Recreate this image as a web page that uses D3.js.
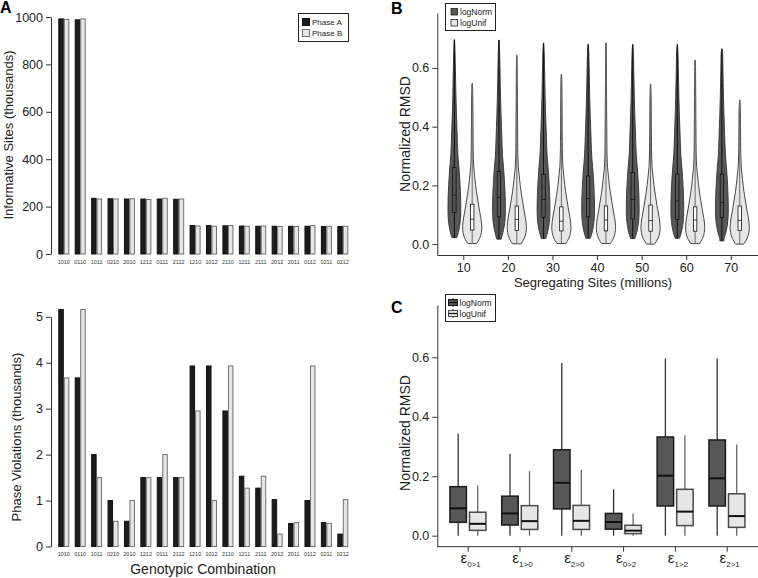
<!DOCTYPE html>
<html><head><meta charset="utf-8">
<script src="https://cdn.jsdelivr.net/npm/d3@7/dist/d3.min.js"></script>
<style>
body{margin:0;background:#fff}
svg{font-family:"Liberation Sans",Arial,sans-serif}
</style>
</head><body>
<svg id="chart" width="758" height="578"></svg>
<script>
// ---------- Panel A data ----------
const genotypes = ["1010","0110","1011","0210","2010","1212","0111","2112","1210","1012","2110","1211","2111","2012","2011","0112","0211","0212"];
const phases = ["Phase A","Phase B"];
const sitesPhaseA = [992,988,235,233,232,232,232,231,120,120,119,118,117,117,117,117,116,116];
const sitesPhaseB = [990,992,232,232,233,230,235,232,118,117,120,117,118,116,116,120,117,117];
const violPhaseA = [5.16,3.67,2.0,1.0,0.55,1.5,1.5,1.5,3.93,3.93,2.95,1.53,1.27,1.02,0.5,1.0,0.52,0.27];
const violPhaseB = [3.67,5.16,1.5,0.55,1.0,1.5,2.0,1.5,2.95,1.0,3.93,1.27,1.53,0.27,0.52,3.93,0.5,1.02];
const sitesTicks = [0,200,400,600,800,1000];
const violTicks = [0,1,2,3,4,5];

// ---------- Panel B data ----------
const segSites = [10,20,30,40,50,60,70];
const models = ["logNorm","logUnif"];
const logNormMin = [0.022,0.017,0.019,0.020,0.019,0.020,0.011];
const logNormQ1  = [0.108,0.093,0.091,0.093,0.086,0.084,0.090];
const logNormMed = [0.167,0.159,0.152,0.155,0.152,0.147,0.142];
const logNormQ3  = [0.261,0.247,0.238,0.232,0.244,0.239,0.238];
const logNormMax = [0.696,0.695,0.685,0.680,0.680,0.680,0.665];
const logUnifMin = [0.002,0.001,0.002,0.002,0.000,0.002,0.000];
const logUnifQ1  = [0.048,0.047,0.045,0.045,0.044,0.044,0.047];
const logUnifMed = [0.085,0.084,0.078,0.082,0.080,0.082,0.080];
const logUnifQ3  = [0.136,0.130,0.127,0.130,0.133,0.127,0.130];
const logUnifMax = [0.547,0.643,0.578,0.685,0.545,0.626,0.491];
// relative violin density (read from shapes) on a shared RMSD grid
const densityGrid   = [0.00,0.02,0.04,0.06,0.09,0.12,0.15,0.18,0.22,0.26,0.30,0.35,0.40,0.45,0.50,0.55,0.60,0.65,0.70];
const logNormDensity = [0.20,0.22,0.40,0.52,0.62,0.64,0.63,0.60,0.54,0.46,0.36,0.30,0.25,0.20,0.16,0.13,0.10,0.07,0.05];
const logUnifDensity = [0.40,0.75,0.92,0.96,0.86,0.70,0.56,0.42,0.28,0.16,0.11,0.09,0.08,0.07,0.06,0.05,0.04,0.03,0.03];
const rmsdTicks = [0,0.2,0.4,0.6];

// ---------- Panel C data ----------
const transitions = ["0>1","1>0","2>0","0>2","1>2","2>1"];
const cNormMin = [0,0,0,0,0,0];
const cNormQ1  = [0.045,0.036,0.090,0.022,0.100,0.100];
const cNormMed = [0.092,0.075,0.178,0.046,0.202,0.193];
const cNormQ3  = [0.165,0.133,0.289,0.075,0.332,0.322];
const cNormMax = [0.344,0.275,0.581,0.156,0.596,0.596];
const cUnifMin = [0,0,0,0,0,0];
const cUnifQ1  = [0.018,0.021,0.021,0.007,0.034,0.028];
const cUnifMed = [0.040,0.049,0.050,0.017,0.081,0.066];
const cUnifQ3  = [0.079,0.101,0.102,0.035,0.156,0.141];
const cUnifMax = [0.169,0.217,0.221,0.075,0.338,0.307];

// ---------- styles ----------
const DARK_BAR = "#1c1c1c", LIGHT_BAR = "#e6e6e6";
const DARK_FILL = "#575757", LIGHT_FILL = "#e6e6e6";
const TXT = "#222";

const svg = d3.select("#chart");

function styleAxis(g, fs){
  g.selectAll("text").attr("font-size", fs).attr("fill", TXT);
  g.selectAll("line").attr("stroke", "#333");
  g.selectAll("path").attr("stroke", "#333");
}

// panel letters
svg.append("text").attr("x",0).attr("y",13).attr("font-size",16).attr("font-weight","bold").text("A");
svg.append("text").attr("x",391).attr("y",14).attr("font-size",16).attr("font-weight","bold").text("B");
svg.append("text").attr("x",391).attr("y",313).attr("font-size",16).attr("font-weight","bold").text("C");

// ================= Panel A =================
const xA = d3.scaleBand().domain(genotypes).range([58.3, 348.3]).paddingInner(0.33).paddingOuter(0);
const subA = d3.scaleBand().domain(phases).range([0, xA.bandwidth()]);
const phaseFill = d3.scaleOrdinal().domain(phases).range([DARK_BAR, LIGHT_BAR]);
const phaseStroke = d3.scaleOrdinal().domain(phases).range(["#111", "#707070"]);

function barPanel(yScale, valsA, valsB, ticks, yLabel, labelY, titleX, labelCenterY){
  const g = svg.append("g");
  const rows = genotypes.map((k,i)=>({k, vals:[{p:phases[0],v:valsA[i]},{p:phases[1],v:valsB[i]}]}));
  const grp = g.selectAll("g.grp").data(rows).join("g").attr("transform", d=>`translate(${xA(d.k)},0)`);
  grp.selectAll("rect").data(d=>d.vals).join("rect")
    .attr("x", d=>subA(d.p)+0.5)
    .attr("width", subA.bandwidth()-1)
    .attr("y", d=>yScale(d.v))
    .attr("height", d=>yScale(0)-yScale(d.v))
    .attr("fill", d=>phaseFill(d.p))
    .attr("stroke", d=>phaseStroke(d.p))
    .attr("stroke-width", 1);
  g.selectAll("text.cat").data(genotypes).join("text").attr("class","cat")
    .attr("x", d=>xA(d)+xA.bandwidth()/2).attr("y", labelY)
    .attr("text-anchor","middle").attr("font-size",5.5).attr("fill","#333").text(d=>d);
  const ax = g.append("g").attr("transform","translate(51,0)")
    .call(d3.axisLeft(yScale).tickValues(ticks).tickFormat(d3.format("d")).tickSize(5).tickSizeOuter(0).tickPadding(3));
  styleAxis(ax, 12.5);
  g.append("text").attr("transform",`translate(${titleX},${labelCenterY}) rotate(-90)`)
    .attr("text-anchor","middle").attr("font-size",13).attr("fill",TXT).text(yLabel);
}
const yA1 = d3.scaleLinear().domain([0,1000]).range([254,17]);
barPanel(yA1, sitesPhaseA, sitesPhaseB, sitesTicks, "Informative Sites (thousands)", 264, 13, 135);
const yA2 = d3.scaleLinear().domain([0,5]).range([546.5,316.8]);
barPanel(yA2, violPhaseA, violPhaseB, violTicks, "Phase Violations (thousands)", 556, 21, 437);
svg.append("text").attr("x",203).attr("y",574).attr("text-anchor","middle").attr("font-size",14).attr("fill",TXT).text("Genotypic Combination");

// legend A
{
  const lg = svg.append("g");
  lg.append("rect").attr("x",298.5).attr("y",13.5).attr("width",50).attr("height",28).attr("fill","#fff").attr("stroke","#222");
  phases.forEach((p,i)=>{
    lg.append("rect").attr("x",302.5).attr("y",18.5+i*11).attr("width",7).attr("height",7)
      .attr("fill",phaseFill(p)).attr("stroke",phaseStroke(p));
    lg.append("text").attr("x",312).attr("y",25+i*11).attr("font-size",8).attr("fill",TXT).text(p);
  });
}

// ================= Panel B =================
const xB = d3.scaleLinear().domain([4.17, 76.1]).range([437.3, 758]);
const yB = d3.scaleLinear().domain([-0.037, 0.787]).range([255, 13]);
const wS = d3.scaleLinear().domain([0,1]).range([0,10]);
const modelOffset = d3.scalePoint().domain(models).range([-2, 2]);
const modelFill = d3.scaleOrdinal().domain(models).range([DARK_FILL, LIGHT_FILL]);
const modelLine = d3.scaleOrdinal().domain(models).range(["#111", "#6a6a6a"]);
const modelBoxFill = d3.scaleOrdinal().domain(models).range([DARK_FILL, "#ffffff"]);

function densAt(dens, v){
  const i = d3.bisectRight(densityGrid, v) - 1;
  if (i < 0) return dens[0];
  if (i >= densityGrid.length-1) return dens[dens.length-1];
  const t = (v - densityGrid[i])/(densityGrid[i+1]-densityGrid[i]);
  return dens[i] + t*(dens[i+1]-dens[i]);
}
const violins = [];
segSites.forEach((s,i)=>{
  violins.push({s, m:"logNorm", min:logNormMin[i], q1:logNormQ1[i], med:logNormMed[i], q3:logNormQ3[i], max:logNormMax[i], dens:logNormDensity});
  violins.push({s, m:"logUnif", min:logUnifMin[i], q1:logUnifQ1[i], med:logUnifMed[i], q3:logUnifQ3[i], max:logUnifMax[i], dens:logUnifDensity});
});
{
  const g = svg.append("g");
  violins.forEach(d=>{
    const cx = xB(d.s + modelOffset(d.m));
    const pts = [{v:d.min, w:densAt(d.dens,d.min)}];
    densityGrid.forEach((gv,i)=>{ if (gv > d.min+0.004 && gv < d.max-0.01) pts.push({v:gv, w:d.dens[i]}); });
    pts.push({v:d.max, w:0.02});
    const area = d3.area().y(p=>yB(p.v)).x0(p=>cx-wS(p.w)).x1(p=>cx+wS(p.w)).curve(d3.curveCatmullRom);
    g.append("path").attr("d", area(pts)).attr("fill", modelFill(d.m)).attr("stroke","#333").attr("stroke-width",0.9);
    g.append("line").attr("x1",cx).attr("x2",cx).attr("y1",yB(d.min)).attr("y2",yB(d.max))
      .attr("stroke", modelLine(d.m)).attr("stroke-width",1);
    g.append("rect").attr("x",cx-1.7).attr("width",3.4).attr("y",yB(d.q3)).attr("height",yB(d.q1)-yB(d.q3))
      .attr("fill", modelBoxFill(d.m)).attr("stroke","#111").attr("stroke-width",0.8);
    g.append("line").attr("x1",cx-1.7).attr("x2",cx+1.7).attr("y1",yB(d.med)).attr("y2",yB(d.med))
      .attr("stroke","#111").attr("stroke-width",0.8);
  });
  const ax = g.append("g").attr("transform","translate(0,255)")
    .call(d3.axisBottom(xB).tickValues(segSites).tickSize(5).tickSizeOuter(0).tickPadding(3));
  styleAxis(ax, 12.5);
  const ay = g.append("g").attr("transform","translate(437.3,0)")
    .call(d3.axisLeft(yB).tickValues(rmsdTicks).tickFormat(d3.format(".1f")).tickSize(5).tickSizeOuter(0).tickPadding(3));
  styleAxis(ay, 12.5);
  g.append("text").attr("transform","translate(410,134) rotate(-90)").attr("text-anchor","middle")
    .attr("font-size",14).attr("fill",TXT).text("Normalized RMSD");
  g.append("text").attr("x",593).attr("y",287).attr("text-anchor","middle").attr("font-size",13).attr("fill",TXT)
    .text("Segregating Sites (millions)");
  const lg = g.append("g");
  lg.append("rect").attr("x",445.5).attr("y",3.5).attr("width",50).attr("height",27).attr("fill","#fff").attr("stroke","#222");
  models.forEach((m,i)=>{
    lg.append("rect").attr("x",451).attr("y",8.5+i*11).attr("width",6.5).attr("height",6.5)
      .attr("fill", modelFill(m)).attr("stroke","#222").attr("stroke-width",0.8);
    lg.append("text").attr("x",460).attr("y",15+i*11).attr("font-size",8.5).attr("fill",TXT).text(m);
  });
}

// ================= Panel C =================
const xC = d3.scalePoint().domain(transitions).range([467.7, 726.7]);
const subC = d3.scaleBand().domain(models).range([-18.5, 19]).paddingInner(0.08);
const yC = d3.scaleLinear().domain([-0.037, 0.776]).range([546.7, 305]);
const boxStroke = d3.scaleOrdinal().domain(models).range(["#1a1a1a", "#4a4a4a"]);
const whiskerCol = d3.scaleOrdinal().domain(models).range(["#333", "#666"]);
const boxes = [];
transitions.forEach((t,i)=>{
  boxes.push({t, m:"logNorm", min:cNormMin[i], q1:cNormQ1[i], med:cNormMed[i], q3:cNormQ3[i], max:cNormMax[i]});
  boxes.push({t, m:"logUnif", min:cUnifMin[i], q1:cUnifQ1[i], med:cUnifMed[i], q3:cUnifQ3[i], max:cUnifMax[i]});
});
{
  const g = svg.append("g");
  boxes.forEach(d=>{
    const x0 = xC(d.t) + subC(d.m), bw = subC.bandwidth(), cx = x0 + bw/2;
    g.append("line").attr("x1",cx).attr("x2",cx).attr("y1",yC(d.min)).attr("y2",yC(d.max))
      .attr("stroke", whiskerCol(d.m)).attr("stroke-width",1.3);
    g.append("rect").attr("x",x0+0.75).attr("width",bw-1.5).attr("y",yC(d.q3)).attr("height",yC(d.q1)-yC(d.q3))
      .attr("fill", modelFill(d.m)).attr("stroke", boxStroke(d.m)).attr("stroke-width",1.5);
    g.append("line").attr("x1",x0+0.75).attr("x2",x0+bw-0.75).attr("y1",yC(d.med)).attr("y2",yC(d.med))
      .attr("stroke","#111").attr("stroke-width",2);
  });
  g.append("line").attr("x1",437.3).attr("x2",758).attr("y1",546.7).attr("y2",546.7).attr("stroke","#333");
  const ax = g.append("g").attr("transform","translate(0,546.7)")
    .call(d3.axisBottom(xC).tickSize(5).tickFormat(""));
  ax.select(".domain").remove();
  styleAxis(ax, 12);
  const labs = g.selectAll("text.eps").data(transitions).join("text").attr("class","eps")
    .attr("x", d=>xC(d)+3).attr("y", 563).attr("text-anchor","middle").attr("fill",TXT);
  labs.append("tspan").attr("font-size",15).text("ε");
  labs.append("tspan").attr("font-size",8).attr("dy",3.5).text(d=>d);
  const ay = g.append("g").attr("transform","translate(437.3,0)")
    .call(d3.axisLeft(yC).tickValues(rmsdTicks).tickFormat(d3.format(".1f")).tickSize(5).tickSizeOuter(0).tickPadding(3));
  styleAxis(ay, 12.5);
  g.append("text").attr("transform","translate(410,433) rotate(-90)").attr("text-anchor","middle")
    .attr("font-size",14).attr("fill",TXT).text("Normalized RMSD");
  const lg = g.append("g");
  lg.append("rect").attr("x",445.5).attr("y",294.5).attr("width",50).attr("height",27).attr("fill","#fff").attr("stroke","#222");
  models.forEach((m,i)=>{
    const cy = 302.5 + i*11;
    lg.append("line").attr("x1",453).attr("x2",453).attr("y1",cy-4.5).attr("y2",cy+4.5).attr("stroke","#333");
    lg.append("rect").attr("x",448.5).attr("y",cy-3).attr("width",9).attr("height",6)
      .attr("fill", modelFill(m)).attr("stroke", boxStroke(m)).attr("stroke-width",1);
    lg.append("line").attr("x1",448.5).attr("x2",457.5).attr("y1",cy).attr("y2",cy).attr("stroke","#111").attr("stroke-width",1.2);
    lg.append("text").attr("x",459.5).attr("y",cy+3).attr("font-size",8.5).attr("fill",TXT).text(m);
  });
}
</script>
</body></html>
